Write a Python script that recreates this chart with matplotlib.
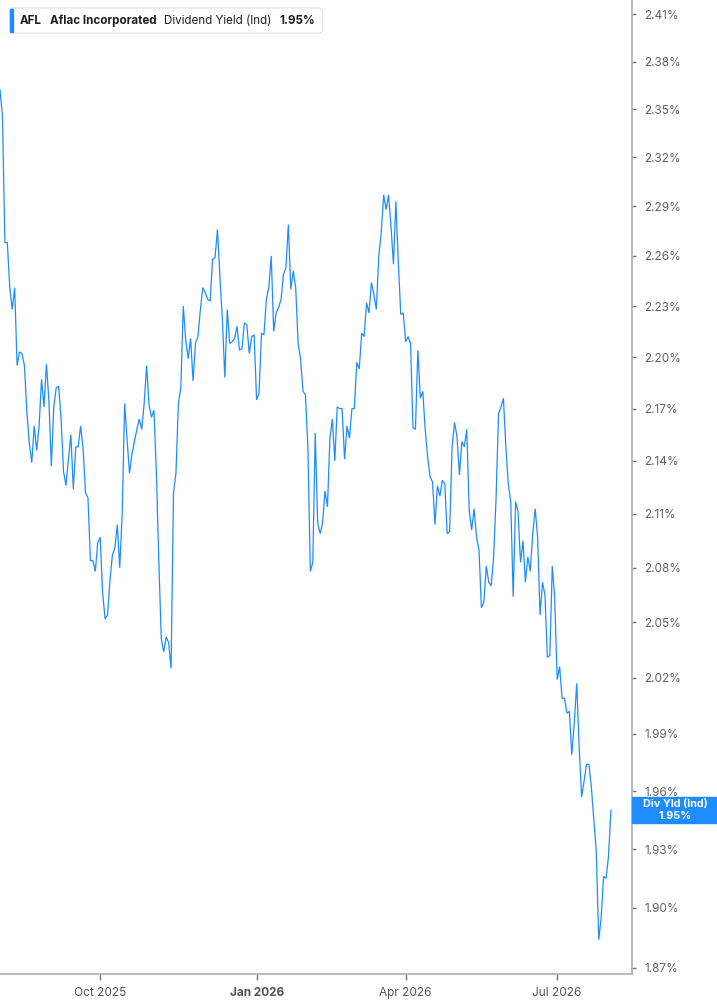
import numpy as np
import pandas as pd
import matplotlib
matplotlib.use("Agg")
import matplotlib.pyplot as plt
from matplotlib.patches import Rectangle, FancyBboxPatch

# trading days shown (NYSE holidays removed)
holidays = ["2025-09-01", "2025-11-27", "2025-12-25", "2026-01-01", "2026-01-19",
            "2026-02-16", "2026-04-03", "2026-05-25", "2026-06-19", "2026-07-03"]
dates = pd.bdate_range("2025-08-04", "2026-08-03", freq="C", holidays=holidays)

# AFL dividend yield (indicated), in %
div_yield = [
    2.362, 2.346, 2.268, 2.268, 2.241, 2.228, 2.241, 2.195, 2.203, 2.202,
    2.195, 2.168, 2.150, 2.139, 2.160, 2.146, 2.160, 2.187, 2.171, 2.196,
    2.175, 2.137, 2.171, 2.182, 2.183, 2.164, 2.134, 2.126, 2.141, 2.155,
    2.124, 2.148, 2.148, 2.160, 2.147, 2.122, 2.119, 2.084, 2.084, 2.078,
    2.094, 2.097, 2.066, 2.052, 2.054, 2.073, 2.087, 2.091, 2.104, 2.080,
    2.110, 2.173, 2.152, 2.133, 2.144, 2.151, 2.158, 2.164, 2.158, 2.173,
    2.195, 2.172, 2.165, 2.169, 2.133, 2.083, 2.041, 2.034, 2.042, 2.039,
    2.025, 2.122, 2.133, 2.173, 2.182, 2.230, 2.210, 2.199, 2.211, 2.186,
    2.208, 2.212, 2.228, 2.241, 2.238, 2.234, 2.233, 2.258, 2.259, 2.276,
    2.247, 2.222, 2.188, 2.228, 2.208, 2.209, 2.211, 2.218, 2.204, 2.205,
    2.220, 2.219, 2.202, 2.212, 2.213, 2.175, 2.179, 2.214, 2.213, 2.234,
    2.241, 2.260, 2.215, 2.226, 2.229, 2.234, 2.249, 2.253, 2.279, 2.240,
    2.251, 2.241, 2.208, 2.199, 2.180, 2.178, 2.147, 2.078, 2.083, 2.156,
    2.105, 2.099, 2.105, 2.123, 2.114, 2.153, 2.164, 2.140, 2.171, 2.170,
    2.170, 2.141, 2.160, 2.153, 2.170, 2.170, 2.197, 2.193, 2.214, 2.212,
    2.232, 2.226, 2.244, 2.237, 2.228, 2.260, 2.274, 2.297, 2.288, 2.297,
    2.278, 2.255, 2.293, 2.256, 2.225, 2.226, 2.209, 2.212, 2.208, 2.159,
    2.158, 2.204, 2.176, 2.180, 2.158, 2.142, 2.131, 2.128, 2.104, 2.126,
    2.120, 2.129, 2.127, 2.099, 2.100, 2.148, 2.162, 2.154, 2.132, 2.151,
    2.148, 2.158, 2.112, 2.101, 2.113, 2.097, 2.090, 2.058, 2.061, 2.081,
    2.072, 2.070, 2.086, 2.119, 2.167, 2.171, 2.176, 2.148, 2.127, 2.117,
    2.064, 2.117, 2.111, 2.083, 2.095, 2.072, 2.086, 2.078, 2.099, 2.113,
    2.097, 2.054, 2.072, 2.065, 2.031, 2.032, 2.081, 2.063, 2.019, 2.026,
    2.009, 2.009, 2.001, 2.002, 1.979, 1.996, 2.017, 1.983, 1.957, 1.965,
    1.974, 1.974, 1.962, 1.945, 1.929, 1.884, 1.895, 1.916, 1.915, 1.926,
    1.950,
]

tick_months = ["2025-10", "2026-01", "2026-04", "2026-07"]
tick_labels = ["Oct 2025", "Jan 2026", "Apr 2026", "Jul 2026"]
y_ticks = [1.87, 1.90, 1.93, 1.96, 1.99, 2.02, 2.05, 2.08, 2.11, 2.14,
           2.17, 2.20, 2.23, 2.26, 2.29, 2.32, 2.35, 2.38, 2.41]

blue = "#1e8cff"
plt.rcParams["font.family"] = ["Inter", "DejaVu Sans"]

W, H = 717, 1005
fig = plt.figure(figsize=(W / 100, H / 100), dpi=100)
ax = fig.add_axes([0, (H - 974.3) / H, 631.7 / W, 974.3 / H])

x = np.arange(len(dates))
ax.plot(x, div_yield, color=blue, lw=0.9, solid_joinstyle="miter")

ax.set_yscale("log")
ax.set_ylim(1.8667, 2.4193)
ax.set_xlim(0, 258.5)
ax.set_yticks(y_ticks)
ax.set_yticklabels([f"{t:.2f}%" for t in y_ticks])
ax.yaxis.set_minor_locator(matplotlib.ticker.NullLocator())

month_keys = dates.strftime("%Y-%m")
tick_pos = [int(np.argmax(month_keys == m)) for m in tick_months]
ax.set_xticks(tick_pos)
ax.set_xticklabels(tick_labels)
ax.get_xticklabels()[1].set_fontweight("bold")

for s in ["top", "left"]:
    ax.spines[s].set_visible(False)
for s in ["right", "bottom"]:
    ax.spines[s].set_color("#b4b4b4")
    ax.spines[s].set_linewidth(1.3)

ax.yaxis.tick_right()
ax.tick_params(axis="y", length=3, width=1, color="#777777", pad=6,
               labelsize=8.5, labelcolor="#5f6368")
ax.tick_params(axis="x", length=4, width=1, color="#777777", pad=5,
               labelsize=8.5, labelcolor="#4b5563")

# last value tag on the right axis
fig.canvas.draw()
renderer = fig.canvas.get_renderer()
_, y_last = ax.transData.transform((0, div_yield[-1]))
box_h = 26
fig.patches.append(Rectangle((631.7 / W, (y_last - box_h / 2) / H), (W - 631.7) / W, box_h / H,
                             transform=fig.transFigure, color=blue, zorder=5))
fig.text(675 / W, (y_last + 6) / H, "Div Yld (Ind)", ha="center", va="center",
         color="white", fontsize=7.8, fontweight="bold", zorder=6)
fig.text(675 / W, (y_last - 6) / H, f"{div_yield[-1]:.2f}%", ha="center", va="center",
         color="white", fontsize=7.8, fontweight="bold", zorder=6)

# legend box at top left, words placed one after another
legend_parts = [("AFL", "bold"), ("Aflac Incorporated", "bold"),
                ("Dividend Yield (Ind)", "normal"), (f"{div_yield[-1]:.2f}%", "bold")]
ty = (H - 20.5) / H
gap = 8
cur = 20.0
for word, weight in legend_parts:
    t = fig.text(cur / W, ty, word, ha="left", va="center", fontsize=8.35,
                 fontweight=weight, color="#1f1f1f", zorder=7)
    cur = t.get_window_extent(renderer).x1 + gap
right_edge = cur - gap + 7
fig.patches.append(FancyBboxPatch((10 / W, (H - 33) / H), (right_edge - 10) / W, 25 / H,
                                  boxstyle="round,pad=0,rounding_size=0.004",
                                  transform=fig.transFigure, facecolor="white",
                                  edgecolor="#e3e3e3", lw=0.8, zorder=5))
fig.patches.append(Rectangle((10 / W, (H - 32) / H), 3 / W, 23 / H,
                             transform=fig.transFigure, color=blue, zorder=6))

fig.savefig("out.png", dpi=100)
